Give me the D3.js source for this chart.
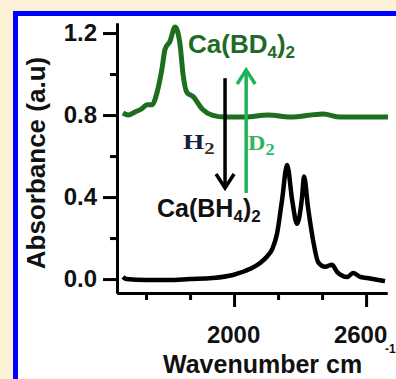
<!DOCTYPE html>
<html>
<head>
<meta charset="utf-8">
<script src="https://cdn.jsdelivr.net/npm/d3@7"></script>
<style>
  body { margin: 0; background: #fdf1d8; }
  svg { display: block; }
  text { font-family: Arial, "Liberation Sans", sans-serif; font-weight: bold; }
</style>
</head>
<body>
<div id="chart"></div>
<script>
var width = 396,
    height = 379;

// Ca(BH4)2 spectrum (black)
var wnBH4 = [1495, 1510, 1600, 1700, 1800, 1900, 1995, 2073, 2120, 2150, 2175, 2195, 2218, 2241, 2264, 2286, 2309, 2318, 2336, 2359, 2382, 2414, 2445, 2468, 2514, 2541, 2570, 2605, 2686];
var absBH4 = [0.01, 0.0, -0.005, -0.005, 0.0, 0.005, 0.02, 0.05, 0.08, 0.11, 0.15, 0.22, 0.385, 0.556, 0.385, 0.27, 0.40, 0.50, 0.35, 0.19, 0.083, 0.06, 0.07, 0.035, 0.01, 0.03, 0.012, 0.005, -0.01];

// Ca(BD4)2 spectrum (green)
var wnBD4 = [1495, 1520, 1550, 1580, 1605, 1627, 1650, 1673, 1686, 1709, 1732, 1755, 1768, 1786, 1814, 1855, 1900, 1959, 2050, 2155, 2255, 2405, 2482, 2573, 2700];
var absBD4 = [0.81, 0.80, 0.815, 0.83, 0.85, 0.85, 0.91, 1.03, 1.12, 1.16, 1.23, 1.14, 1.0, 0.91, 0.89, 0.83, 0.80, 0.79, 0.79, 0.80, 0.79, 0.805, 0.79, 0.79, 0.79];

var yMajor = [0.0, 0.4, 0.8, 1.2],
    yMinor = [0.2, 0.6, 1.0],
    xMajor = [2000, 2600],
    xMinor = [1600, 1800, 2200, 2400];

var svg = d3.select('#chart')
    .append('svg')
    .attr('width', width)
    .attr('height', height);

// frame
svg.append('rect')
    .attr('x', 15.5).attr('y', 13.5)
    .attr('width', 420).attr('height', 420)
    .attr('fill', '#ffffff')
    .attr('stroke', '#0000ff')
    .attr('stroke-width', 5);

var x = d3.scaleLinear().domain([1468, 2695]).range([117, 387]);
var y = d3.scaleLinear().domain([-0.068, 1.249]).range([293, 23]);

// axes
svg.append('g')
    .attr('transform', 'translate(117,0)')
    .call(d3.axisLeft(y).tickValues(yMajor).tickSize(14).tickSizeOuter(0).tickPadding(6)
        .tickFormat(d3.format('.1f')));
svg.append('g')
    .attr('transform', 'translate(117,0)')
    .call(d3.axisLeft(y).tickValues(yMinor).tickSize(7).tickSizeOuter(0).tickFormat(''));

var xAxis = svg.append('g')
    .attr('transform', 'translate(0,293)')
    .call(d3.axisBottom(x).tickValues(xMajor).tickSize(14).tickSizeOuter(0).tickPadding(19)
        .tickFormat(d3.format('d')));
svg.append('g')
    .attr('transform', 'translate(0,293)')
    .call(d3.axisBottom(x).tickValues(xMinor).tickSize(7).tickSizeOuter(0).tickFormat(''));

svg.selectAll('.domain').attr('stroke', '#000').attr('stroke-width', 3);
svg.selectAll('.tick line').attr('stroke', '#000').attr('stroke-width', 3);
svg.selectAll('.tick text')
    .attr('fill', '#111')
    .style('font-size', '24px')
    .style('font-family', 'Arial, "Liberation Sans", sans-serif')
    .style('font-weight', 'bold');
xAxis.selectAll('.tick text')
    .attr('dx', function (d) { return d === 2600 ? -6 : -1; });

// axis titles
svg.append('text')
    .attr('transform', 'translate(45,163) rotate(-90)')
    .attr('text-anchor', 'middle')
    .attr('fill', '#111')
    .style('font-size', '26px')
    .text('Absorbance (a.u)');

svg.append('text')
    .attr('x', 163).attr('y', 373)
    .attr('fill', '#111')
    .style('font-size', '25px')
    .text('Wavenumber cm');
svg.append('text')
    .attr('x', 385).attr('y', 353)
    .attr('fill', '#111')
    .style('font-size', '12px')
    .text('-1');

// spectra
var line = d3.line()
    .x(function (d) { return x(d[0]); })
    .y(function (d) { return y(d[1]); })
    .curve(d3.curveMonotoneX);

svg.append('path')
    .datum(d3.zip(wnBD4, absBD4))
    .attr('fill', 'none')
    .attr('stroke', '#1d6e1f')
    .attr('stroke-width', 5)
    .attr('stroke-linejoin', 'round')
    .attr('d', line);

svg.append('path')
    .datum(d3.zip(wnBH4, absBH4))
    .attr('fill', 'none')
    .attr('stroke', '#000')
    .attr('stroke-width', 4.5)
    .attr('stroke-linejoin', 'round')
    .attr('d', line);

// arrows (H2 down, D2 up)
function arrow(w, from, to, color) {
    var x0 = x(w), y0 = y(from), y1 = y(to);
    var dir = y1 > y0 ? 1 : -1;
    svg.append('line')
        .attr('x1', x0).attr('x2', x0)
        .attr('y1', y0).attr('y2', y1 - dir * 2)
        .attr('stroke', color).attr('stroke-width', 3.5);
    svg.append('polyline')
        .attr('points', [[x0 - 9, y1 - dir * 14], [x0, y1], [x0 + 9, y1 - dir * 14]].join(' '))
        .attr('fill', 'none')
        .attr('stroke', color)
        .attr('stroke-width', 3.5);
}
arrow(1959, 0.98, 0.444, '#000');
arrow(2055, 0.42, 1.02, '#1fb45a');

// labels
function formula(px, py, parts, color, size) {
    var t = svg.append('text')
        .attr('x', px).attr('y', py)
        .attr('fill', color)
        .style('font-size', size + 'px');
    parts.forEach(function (p) {
        t.append('tspan')
            .attr('dy', p.sub ? 5 : (p.up ? -5 : 0))
            .style('font-size', p.sub ? Math.round(size * 0.66) + 'px' : size + 'px')
            .text(p.t);
    });
    return t;
}

formula(188, 53, [{t: 'Ca(BD'}, {t: '4', sub: true}, {t: ')', up: true}, {t: '2', sub: true}], '#1f6a24', 26);
formula(157, 217, [{t: 'Ca(BH'}, {t: '4', sub: true}, {t: ')', up: true}, {t: '2', sub: true}], '#111', 25);

// H2 / D2 are set in a wide serif
var h2 = svg.append('text')
    .attr('transform', 'translate(183,149) scale(1.3,1)')
    .style('font-family', '"Liberation Serif", "Times New Roman", serif')
    .style('font-size', '21px');
h2.append('tspan').attr('fill', '#14203a').text('H');
h2.append('tspan').attr('fill', '#3a2c1c').attr('dy', 5).style('font-size', '16px').text('2');

var d2 = svg.append('text')
    .attr('transform', 'translate(248,150) scale(1.15,1)')
    .style('font-family', '"Liberation Serif", "Times New Roman", serif')
    .style('font-size', '21px')
    .attr('fill', '#35b454');
d2.append('tspan').text('D');
d2.append('tspan').attr('dy', 5).style('font-size', '16px').attr('fill', '#2bb87a').text('2');
</script>
</body>
</html>
